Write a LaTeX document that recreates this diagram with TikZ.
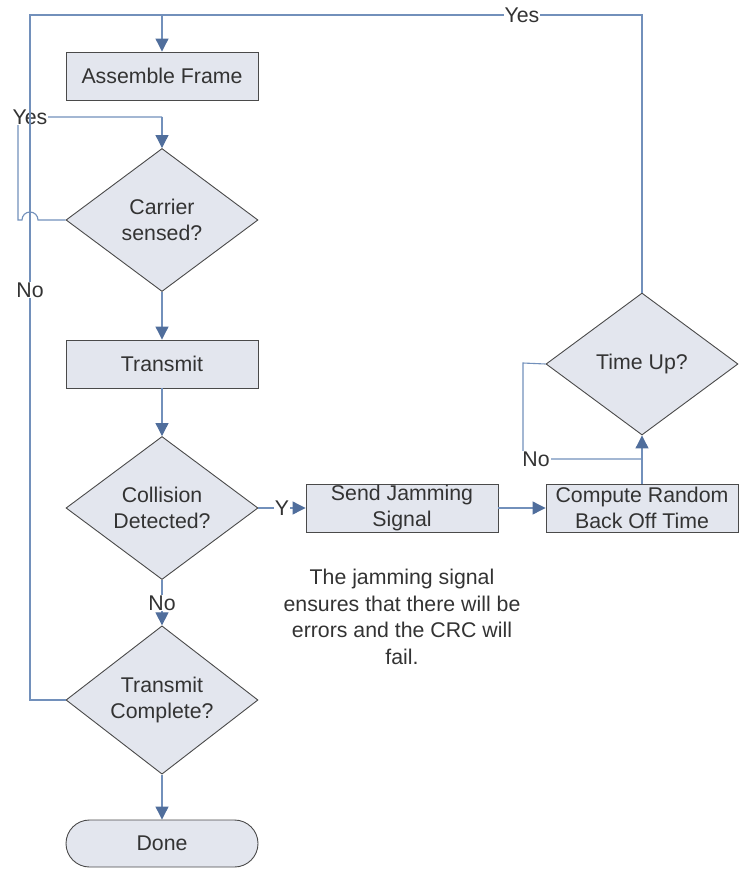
\documentclass[tikz,border=0pt]{standalone}
\usepackage{fontspec}
\setmainfont{Liberation Sans}
\usetikzlibrary{shapes.geometric,shapes.misc,arrows.meta}
\definecolor{boxfill}{HTML}{E3E6EE}
\definecolor{boxdraw}{HTML}{4A4A4A}
\definecolor{conn}{HTML}{7290BB}
\definecolor{arrowc}{HTML}{506E9C}
\definecolor{txt}{HTML}{333333}
\begin{document}
\begin{tikzpicture}[x=1pt,y=-1pt,
  every node/.style={text=txt,font=\fontsize{21.3}{25.5}\selectfont},
  procbox/.style={draw=boxdraw,fill=boxfill,line width=0.9pt,rectangle,minimum width=192pt,minimum height=48pt,inner sep=0pt,align=center},
  decision/.style={draw=boxdraw,fill=boxfill,line width=0.9pt,diamond,minimum width=192pt,minimum height=143pt,inner sep=0pt,align=center},
  terminal/.style={draw=boxdraw,fill=boxfill,line width=0.9pt,rounded rectangle,minimum width=192pt,minimum height=47pt,inner sep=0pt},
  conline/.style={draw=conn,line width=1.1pt},
  arr/.style={conline,-{Triangle[length=13pt,width=13pt,color=arrowc]}},
  lbl/.style={fill=white,inner sep=1pt}
]
\useasboundingbox (0,0) rectangle (741,869);
% nodes
\node[procbox] (assemble) at (162,76) {Assemble Frame};
\node[decision] (carrier) at (162,220) {Carrier\\sensed?};
\node[procbox] (transmit) at (162,364) {Transmit};
\node[decision] (collision) at (162,508) {Collision\\Detected?};
\node[decision] (tcomplete) at (162,700) {Transmit\\Complete?};
\node[terminal] (done) at (162,843.5) {Done};
\node[procbox] (jam) at (402,508) {Send Jamming\\Signal};
\node[procbox] (compute) at (642,508) {Compute Random\\Back Off Time};
\node[decision,minimum height=142pt] (timeup) at (642,364) {Time Up?};
\node[align=center,font=\fontsize{21.3}{26.5}\selectfont] (note) at (402,617) {The jamming signal\\ensures that there will be\\errors and the CRC will\\fail.};
% coordinates
\coordinate (hopR) at (38,220);
\coordinate (hopL) at (22,220);
\coordinate (cl1) at (18,220);
\coordinate (cl2) at (18,117);
\coordinate (cl3) at (162,117);
\coordinate (top1) at (642,15);
\coordinate (top2) at (162,15);
\coordinate (left1) at (30,700);
\coordinate (left2) at (30,15);
\coordinate (tu1) at (523,363);
\coordinate (tu2) at (523,459);
\coordinate (tu3) at (642,459);
% carrier sensed loop (Yes)
\draw[conline] (carrier.west) -- (hopR) arc[start angle=0,end angle=180,radius=8pt] -- (cl1) -- (cl2) -- (cl3);
\draw[arr] (cl3) -- (carrier.north);
\node[lbl] (yes1) at (30,117) {Yes};
% main flow
\draw[arr] (carrier.south) -- (transmit.north);
\draw[arr] (transmit.south) -- (collision.north);
\draw[arr] (collision.east) -- (jam.west);
\node[lbl] (ylbl) at (282,508) {Y};
\draw[arr] (collision.south) -- (tcomplete.north);
\node[lbl] (no2) at (162,603) {No};
\draw[arr] (tcomplete.south) -- (done.north);
\draw[arr] (jam.east) -- (compute.west);
\draw[arr] (compute.north) -- (timeup.south);
% time up no loop
\draw[conline] (timeup.west) -- (tu1) -- (tu2) -- (tu3);
\node[lbl] (no3) at (536,459) {No};
% time up yes
\draw[conline] (timeup.north) -- (top1) -- (top2);
\draw[arr] (top2) -- (assemble.north);
\node[lbl] (yes2) at (522,15) {Yes};
% transmit complete no
\draw[conline] (tcomplete.west) -- (left1) -- (left2) -- (top2);
\node[lbl] (no1) at (30,290) {No};
\end{tikzpicture}
\end{document}
